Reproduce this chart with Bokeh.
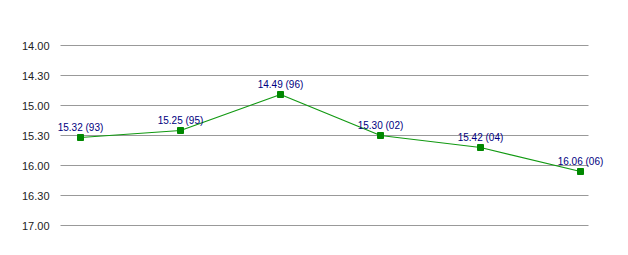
from bokeh.plotting import figure
from bokeh.models import Range1d, FixedTicker, ColumnDataSource, LabelSet
from bokeh.core.properties import value
from bokeh.embed import file_html
from bokeh.resources import INLINE

labels = ["15.32 (93)", "15.25 (95)", "14.49 (96)", "15.30 (02)", "15.42 (04)", "16.06 (06)"]
minutes = [15, 15, 14, 15, 15, 16]
seconds = [32, 25, 49, 30, 42, 6]
tick_labels = ["14.00", "14.30", "15.00", "15.30", "16.00", "16.30", "17.00"]
tick_values = [840, 870, 900, 930, 960, 990, 1020]

x = list(range(len(labels)))
y = [m * 60 + s for m, s in zip(minutes, seconds)]
src = ColumnDataSource(dict(x=x, y=y, label=labels))

x_left, x_grid_right = -0.2, 5.08
p = figure(width=628, height=255, output_backend="svg", toolbar_location=None,
           x_range=Range1d(-0.4, 5.4), y_range=Range1d(1035, 825),
           min_border_left=40, min_border_right=8, min_border_top=30, min_border_bottom=15)
p.outline_line_color = None
p.background_fill_color = "white"
p.border_fill_color = "white"
p.xaxis.visible = False
p.xgrid.visible = False
p.ygrid.visible = False
p.yaxis.ticker = FixedTicker(ticks=tick_values)
p.yaxis.major_label_overrides = {v: t for v, t in zip(tick_values, tick_labels)}
p.yaxis.axis_line_color = None
p.yaxis.major_tick_line_color = None
p.yaxis.minor_tick_line_color = None
p.yaxis.major_label_standoff = -15
p.yaxis.major_label_text_font = "Liberation Sans"
p.yaxis.major_label_text_font_size = "11px"
p.yaxis.major_label_text_color = "#222222"

# horizontal grid lines ending at the last category
p.segment(x0=[x_left] * len(tick_values), x1=[x_grid_right] * len(tick_values),
          y0=tick_values, y1=tick_values, line_color="#999999", line_width=1)

p.line("x", "y", source=src, line_color="#119911", line_width=1.2)
p.scatter("x", "y", source=src, marker="square", size=6, fill_color="#008800", line_color="#008800")

ls = LabelSet(x="x", y="y", text="label", source=src, text_align="center", text_baseline="bottom",
              y_offset=5, text_font=value("Liberation Sans"), text_font_size=value("10px"),
              text_color="#000080")
p.add_layout(ls)

open("out.html", "w").write(file_html(p, INLINE))
